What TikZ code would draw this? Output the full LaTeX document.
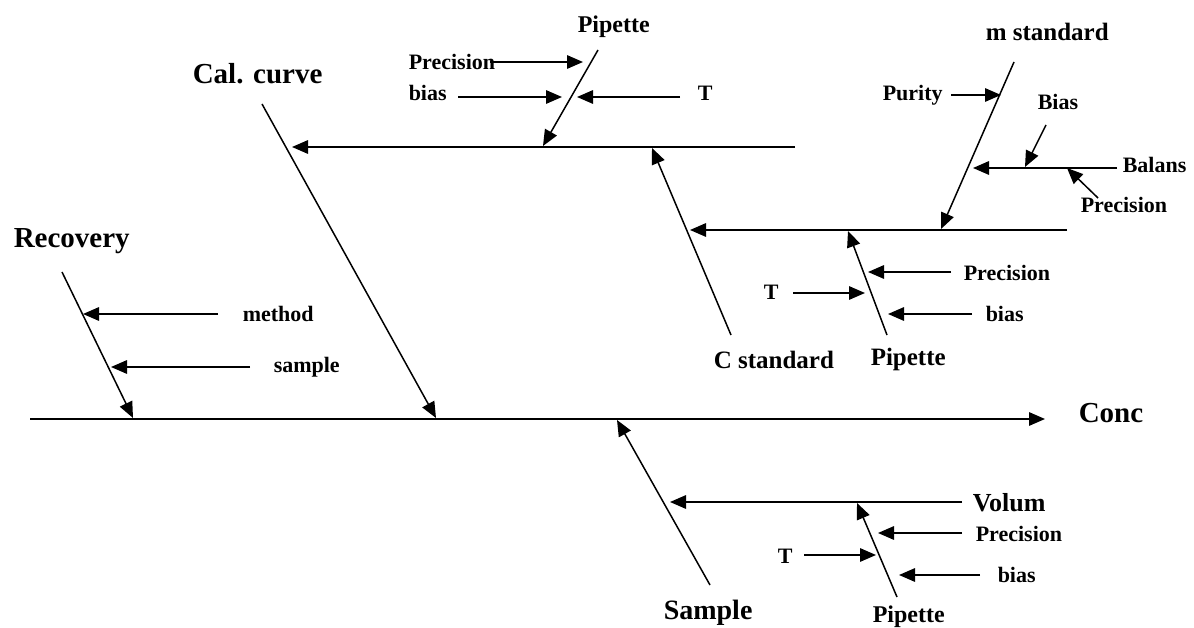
\documentclass[tikz,border=0pt]{standalone}
\usepackage{fontspec}
\setmainfont{Liberation Serif}
\usetikzlibrary{arrows.meta}
\begin{document}
\begin{tikzpicture}[x=1pt,y=-1pt,line width=1.5pt,
  arr/.style={-{Triangle[length=16pt,width=13.5pt]}},
  lbl/.style={inner sep=0pt,anchor=base west,font=\bfseries\fontsize{22}{24}\selectfont},
  big/.style={lbl,font=\bfseries\fontsize{29}{32}\selectfont},
  midlbl/.style={lbl,font=\bfseries\fontsize{25}{28}\selectfont}]
\useasboundingbox (0,0) rectangle (1194,628);
% ---- coordinates ----
\coordinate (s0) at (30,419);   \coordinate (s1) at (1045,419);
\coordinate (r0) at (62,272);   \coordinate (r1) at (133,418);
\coordinate (me0) at (218,314); \coordinate (me1) at (83,314);
\coordinate (sa0) at (250,367); \coordinate (sa1) at (111,367);
\coordinate (c0) at (262,104);  \coordinate (c1) at (436,418);
\coordinate (h1a) at (795,147); \coordinate (h1b) at (292,147);
\coordinate (p1a) at (598,50);  \coordinate (p1b) at (543,146);
\coordinate (tpr0) at (490,62); \coordinate (tpr1) at (583,62);
\coordinate (tbi0) at (458,97); \coordinate (tbi1) at (562,97);
\coordinate (tt0) at (680,97);  \coordinate (tt1) at (577,97);
\coordinate (cs0) at (731,335); \coordinate (cs1) at (652,148);
\coordinate (h2a) at (1067,230); \coordinate (h2b) at (690,230);
\coordinate (ms0) at (1014,62); \coordinate (ms1) at (941,229);
\coordinate (pu0) at (951,95);  \coordinate (pu1) at (1001,95);
\coordinate (ba0) at (1117,168); \coordinate (ba1) at (973,168);
\coordinate (bb0) at (1046,125); \coordinate (bb1) at (1025,167);
\coordinate (bp0r) at (1098,198); \coordinate (bp1r) at (1067,168);
\coordinate (mp0) at (887,335); \coordinate (mp1) at (848,231);
\coordinate (mpr0) at (951,272); \coordinate (mpr1) at (868,272);
\coordinate (mt0) at (793,293); \coordinate (mt1) at (865,293);
\coordinate (mb0) at (972,314); \coordinate (mb1) at (888,314);
\coordinate (sb0) at (710,585); \coordinate (sb1) at (617,420);
\coordinate (v0) at (962,502);  \coordinate (v1) at (670,502);
\coordinate (bp0) at (897,597); \coordinate (bp1) at (857,503);
\coordinate (bpr0) at (962,533); \coordinate (bpr1) at (878,533);
\coordinate (bt0) at (804,555); \coordinate (bt1) at (876,555);
\coordinate (bbi0) at (980,575); \coordinate (bbi1) at (899,575);
% ---- connectors ----
\draw[arr] (s0) -- (s1);
\draw[arr] (r0) -- (r1);
\draw[arr] (me0) -- (me1);
\draw[arr] (sa0) -- (sa1);
\draw[arr] (c0) -- (c1);
\draw[arr] (h1a) -- (h1b);
\draw[arr] (p1a) -- (p1b);
\draw[arr] (tpr0) -- (tpr1);
\draw[arr] (tbi0) -- (tbi1);
\draw[arr] (tt0) -- (tt1);
\draw[arr] (cs0) -- (cs1);
\draw[arr] (h2a) -- (h2b);
\draw[arr] (ms0) -- (ms1);
\draw[arr] (pu0) -- (pu1);
\draw[arr] (ba0) -- (ba1);
\draw[arr] (bb0) -- (bb1);
\draw[arr] (bp0r) -- (bp1r);
\draw[arr] (mp0) -- (mp1);
\draw[arr] (mpr0) -- (mpr1);
\draw[arr] (mt0) -- (mt1);
\draw[arr] (mb0) -- (mb1);
\draw[arr] (sb0) -- (sb1);
\draw[arr] (v0) -- (v1);
\draw[arr] (bp0) -- (bp1);
\draw[arr] (bpr0) -- (bpr1);
\draw[arr] (bt0) -- (bt1);
\draw[arr] (bbi0) -- (bbi1);
% ---- labels ----
\node[big] (lrec) at (13,248) {Recovery};
\node[big] (lcal) at (192,84) {Cal. curve};
\node[big] (lconc) at (1078,422) {Conc};
\node[lbl,font=\bfseries\fontsize{28}{30}\selectfont] (lsam) at (663,619) {Sample};
\node[lbl,font=\bfseries\fontsize{24}{26}\selectfont] (lpipb) at (872,622) {Pipette};
\node[midlbl] (lcst) at (713,368) {C standard};
\node[midlbl] (lpipm) at (870,365) {Pipette};
\node[midlbl] (lmst) at (985,41) {m standard};
\node[lbl,font=\bfseries\fontsize{24}{26}\selectfont] (lpipt) at (577,33) {Pipette};
\node[lbl] (ltpr) at (408,70) {Precision};
\node[lbl] (ltbi) at (408,101) {bias};
\node[lbl] (ltt) at (697,101) {T};
\node[lbl] (lpur) at (882,101) {Purity};
\node[lbl] (lbias) at (1037,110) {Bias};
\node[lbl] (lbal) at (1122,173) {Balans};
\node[lbl] (lrpr) at (1080,213) {Precision};
\node[lbl] (lmpr) at (963,281) {Precision};
\node[lbl] (lmt) at (763,300) {T};
\node[lbl] (lmbi) at (985,321) {bias};
\node[lbl] (lmeth) at (242,321) {method};
\node[lbl] (lsmp) at (273,372) {sample};
\node[lbl,font=\bfseries\fontsize{26}{28}\selectfont] (lvol) at (972,511) {Volum};
\node[lbl] (lbpr) at (975,541) {Precision};
\node[lbl] (lbt) at (777,563) {T};
\node[lbl] (lbbi) at (997,582) {bias};
\end{tikzpicture}
\end{document}
